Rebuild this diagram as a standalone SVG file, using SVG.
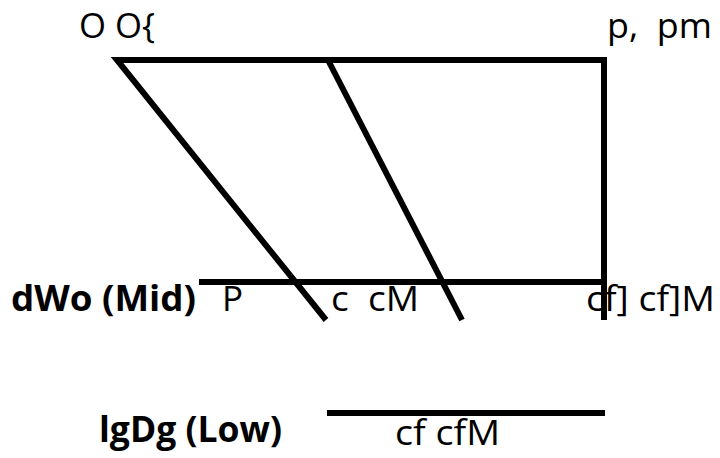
<svg xmlns="http://www.w3.org/2000/svg" width="720" height="458" viewBox="0 0 720 458">
  <style>
    .t { font-family: "Open Sans", "Liberation Sans", sans-serif; font-size: 35px; fill: #000; white-space: pre; }
    .b { font-weight: bold; font-size: 36px; }
    .ln { stroke: #000; stroke-width: 6; fill: none; stroke-linejoin: miter; stroke-linecap: butt; }
  </style>
  <rect width="720" height="458" fill="#fff"/>
  <g id="labels">
    <text class="t" x="79" y="38" textLength="76" lengthAdjust="spacingAndGlyphs">O O{</text>
    <text class="t" x="607" y="38" textLength="105" lengthAdjust="spacingAndGlyphs" xml:space="preserve">p,  pm</text>
    <text class="t b" x="11" y="311" textLength="185" lengthAdjust="spacingAndGlyphs">dWo (Mid)</text>
    <text class="t" x="222" y="311">P</text>
    <text class="t" x="331" y="311" textLength="88" lengthAdjust="spacingAndGlyphs" xml:space="preserve">c  cM</text>
    <text class="t" x="586" y="311" textLength="129" lengthAdjust="spacingAndGlyphs">cf] cf]M</text>
    <text class="t b" x="99" y="442" textLength="183" lengthAdjust="spacingAndGlyphs">lgDg (Low)</text>
    <text class="t" x="395" y="445" textLength="105" lengthAdjust="spacingAndGlyphs">cf cfM</text>
  </g>
  <g id="connectors">
    <polyline class="ln" points="326,320 117,60 604,60 604,320"/>
    <line class="ln" x1="328" y1="60" x2="462" y2="320"/>
    <line class="ln" x1="199" y1="282" x2="604" y2="282"/>
    <line class="ln" x1="327" y1="413" x2="605" y2="413"/>
  </g>
</svg>
